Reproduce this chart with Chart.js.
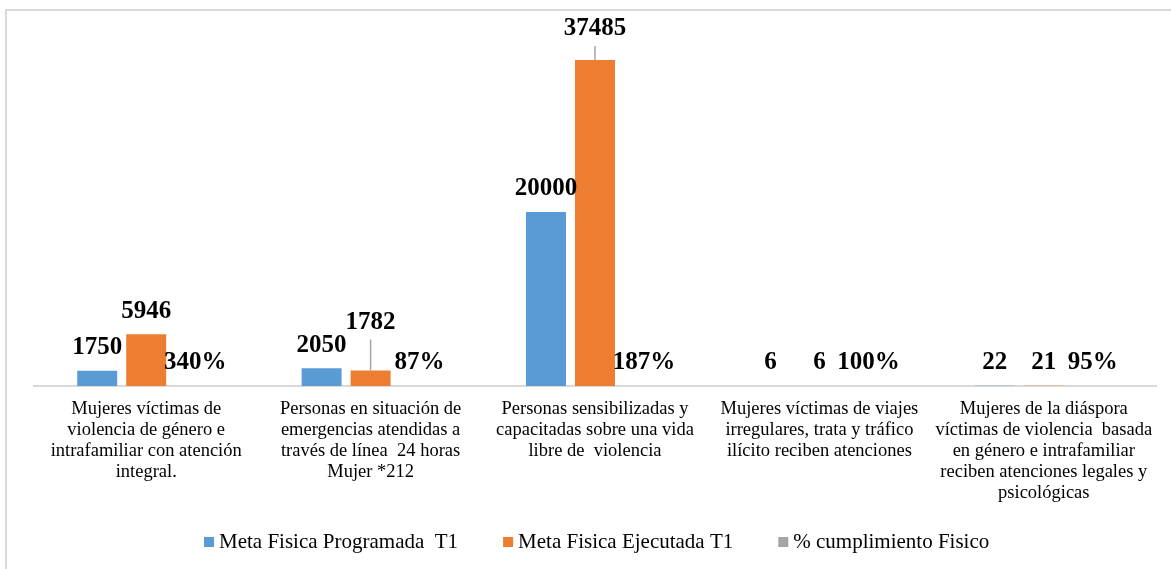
<!DOCTYPE html>
<html lang="es">
<head>
    <meta charset="UTF-8">
    <title>Meta Física T1</title>
    <style>
        html, body {
            margin: 0;
            overflow: hidden;
            background-color: #ffffff;
        }

        .marco {
            position: absolute;
            left: 5px;
            top: 9px;
            width: 1166px;
            height: 560px;
            border-top: 2px solid #d9d9d9;
            border-left: 2px solid #d9d9d9;
            box-sizing: border-box;
        }

        .chart-box {
            position: absolute;
            left: 0;
            top: 0;
            width: 1171px;
            height: 569px;
        }
    </style>
    <script src="https://cdn.jsdelivr.net/npm/chart.js"></script>
</head>
<body>
    <div class="marco"></div>
    <div class="chart-box">
        <canvas id="metaChart"></canvas>
    </div>

    <script>
        const categorias = [
            ['Mujeres víctimas de', 'violencia de género e', 'intrafamiliar con atención', 'integral.'],
            ['Personas en situación de', 'emergencias atendidas a', 'través de línea  24 horas', 'Mujer *212'],
            ['Personas sensibilizadas y', 'capacitadas sobre una vida', 'libre de  violencia'],
            ['Mujeres víctimas de viajes', 'irregulares, trata y tráfico', 'ilícito reciben atenciones'],
            ['Mujeres de la diáspora', 'víctimas de violencia  basada', 'en género e intrafamiliar', 'reciben atenciones legales y', 'psicológicas']
        ];
        const metaProgramada = [1750, 2050, 20000, 6, 22];
        const metaEjecutada = [5946, 1782, 37485, 6, 21];
        const cumplimiento = [3.40, 0.87, 1.87, 1.00, 0.95];

        const serie1 = 'Meta Fisica Programada  T1';
        const serie2 = 'Meta Fisica Ejecutada T1';
        const serie3 = '% cumplimiento Fisico';

        // etiquetas de valores encima de cada barra
        const etiquetasPlugin = {
            id: 'etiquetas',
            afterDatasetsDraw(chart, args, opts) {
                const ctx = chart.ctx;
                ctx.save();
                ctx.font = 'bold 25px "Liberation Serif"';
                ctx.fillStyle = '#000';
                ctx.textAlign = 'center';
                ctx.textBaseline = 'middle';
                chart.data.datasets.forEach((ds, i) => {
                    const meta = chart.getDatasetMeta(i);
                    meta.data.forEach((bar, j) => {
                        const v = ds.data[j];
                        const texto = i === 2 ? Math.round(v * 100) + '%' : String(v);
                        const sube = opts.desplazar[i + '-' + j] || 0;
                        const y = bar.y - 23 - sube;
                        if (sube > 0) {
                            ctx.strokeStyle = '#a6a6a6';
                            ctx.lineWidth = 1.5;
                            ctx.beginPath();
                            ctx.moveTo(bar.x, y + 17);
                            ctx.lineTo(bar.x, bar.y);
                            ctx.stroke();
                        }
                        ctx.fillText(texto, bar.x, y);
                    });
                });
                ctx.restore();
            }
        };

        // leyenda propia: cajas pequeñas y separación amplia entre series
        const leyendaPlugin = {
            id: 'leyendaSerif',
            afterDraw(chart, args, opts) {
                const ctx = chart.ctx;
                ctx.save();
                ctx.font = '21px "Liberation Serif"';
                ctx.textAlign = 'left';
                ctx.textBaseline = 'middle';
                let x = opts.x;
                chart.data.datasets.forEach(ds => {
                    ctx.fillStyle = ds.backgroundColor;
                    ctx.fillRect(x, opts.y - 5, 10, 10);
                    x += 15;
                    ctx.fillStyle = '#000';
                    ctx.fillText(ds.label, x, opts.y);
                    x += ctx.measureText(ds.label).width + 45;
                });
                ctx.restore();
            }
        };

        const ctx = document.getElementById('metaChart').getContext('2d');
        const chart = new Chart(ctx, {
            type: 'bar',
            data: {
                labels: categorias,
                datasets: [
                    { label: serie1, data: metaProgramada, backgroundColor: '#5B9BD5' },
                    { label: serie2, data: metaEjecutada, backgroundColor: '#ED7D31' },
                    { label: serie3, data: cumplimiento, backgroundColor: '#A5A5A5' }
                ]
            },
            options: {
                responsive: true,
                maintainAspectRatio: false,
                animation: false,
                datasets: {
                    bar: {
                        categoryPercentage: 0.655,
                        barPercentage: 0.816
                    }
                },
                layout: {
                    padding: { top: 38, left: 34, right: 15, bottom: 0 }
                },
                plugins: {
                    legend: { display: false },
                    tooltip: { enabled: false },
                    etiquetas: {
                        desplazar: { '1-1': 25, '1-2': 8 }
                    },
                    leyendaSerif: { x: 204, y: 542 }
                },
                scales: {
                    x: {
                        grid: { display: false, drawTicks: false },
                        border: { color: '#d9d9d9', width: 2 },
                        ticks: {
                            autoSkip: false,
                            maxRotation: 0,
                            padding: 13,
                            color: '#000',
                            font: { family: 'Liberation Serif', size: 18.5, lineHeight: 1.135 }
                        },
                        afterFit(scale) {
                            scale.height = 183;
                        }
                    },
                    y: {
                        display: false,
                        min: 0,
                        max: 40000
                    }
                }
            },
            plugins: [etiquetasPlugin, leyendaPlugin]
        });
    </script>
</body>
</html>
